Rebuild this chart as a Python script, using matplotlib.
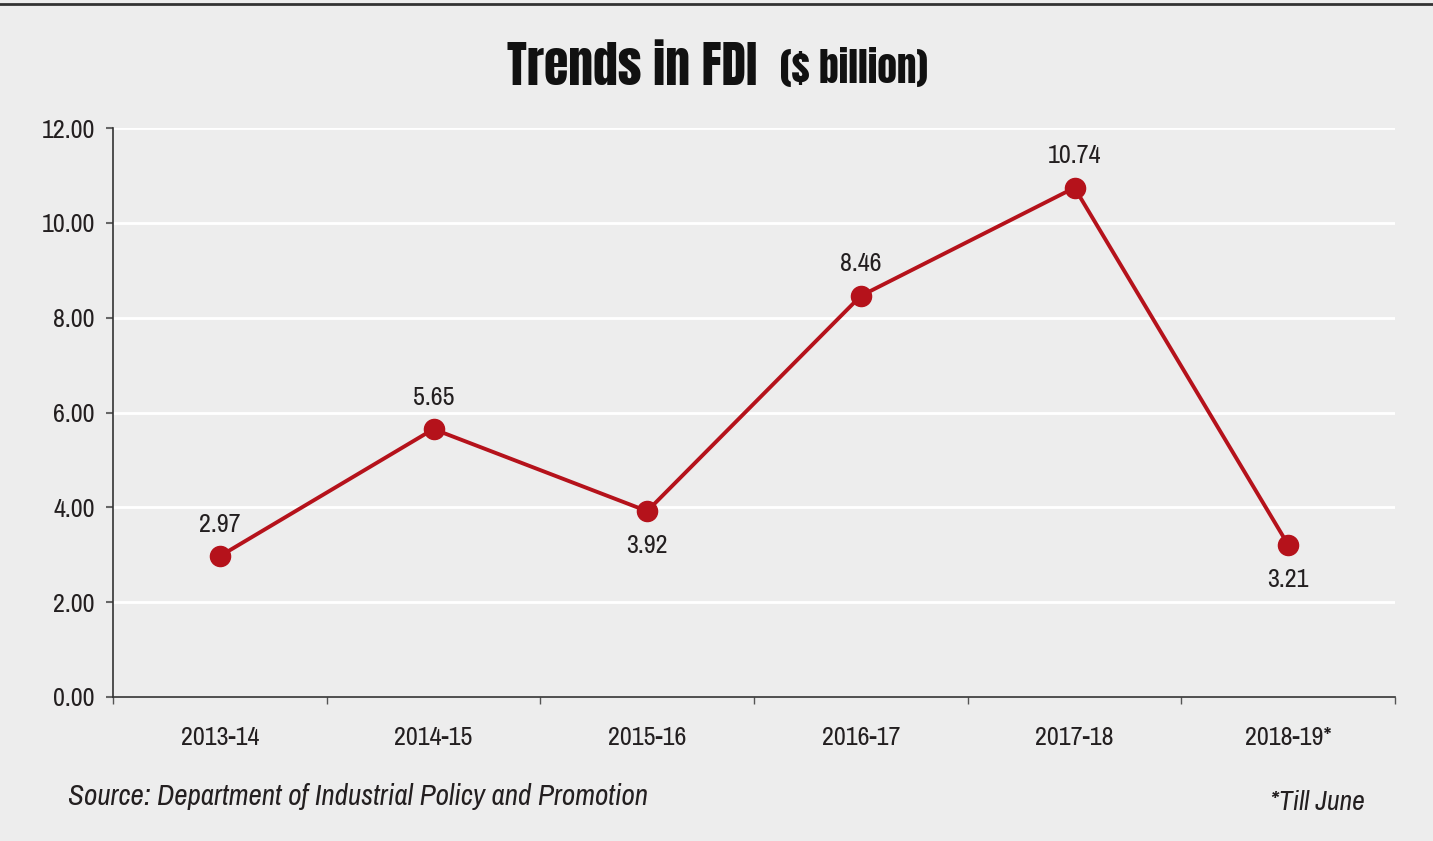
import matplotlib.pyplot as plt
from matplotlib import font_manager

years = ['2013-14', '2014-15', '2015-16', '2016-17', '2017-18', '2018-19*']
fdi = [2.97, 5.65, 3.92, 8.46, 10.74, 3.21]
label_above = [True, True, False, True, True, False]
yticks = [0, 2, 4, 6, 8, 10, 12]

names = {f.name for f in font_manager.fontManager.ttflist}


def pick(cands):
    for c in cands:
        if c in names:
            return c
    return 'DejaVu Sans'


body = pick(['Archivo Narrow', 'Roboto Condensed', 'PT Sans Narrow', 'Arial Narrow',
             'Liberation Sans Narrow', 'IBM Plex Sans Condensed', 'Open Sans Condensed'])
head = pick(['Anton', 'Oswald', 'Fjalla One', 'Bebas Neue', 'Impact'])
plt.rcParams['font.family'] = [body, 'DejaVu Sans']

bg = '#ededed'
red = '#b5121b'
txt = '#231f20'

fig = plt.figure(figsize=(14.33, 8.41), dpi=100, facecolor=bg)
ax = fig.add_axes([113/1433, 1-697/841, (1395-113)/1433, (697-128)/841])
ax.set_facecolor(bg)
rend = fig.canvas.get_renderer()


def fit(t, width):
    # scale a text's font size so it spans the given pixel width
    w = t.get_window_extent(rend).width
    t.set_fontsize(t.get_fontsize() * width / w)
    return t.get_fontsize()


probe = fig.text(0, 0, '2013-14', fontsize=17)
fs = fit(probe, 79)
probe.remove()

xs = list(range(len(years)))
ax.plot(xs, fdi, color=red, lw=2.8, marker='o', ms=14.5, zorder=3)
for x, v, up in zip(xs, fdi, label_above):
    dy = 23 if up else -25
    ax.annotate(f'{v:.2f}', (x, v), xytext=(0, dy), textcoords='offset points',
                ha='center', va='center', fontsize=fs, color=txt)

ax.set_xlim(-0.5, len(years) - 0.5)
ax.set_ylim(0, 12)
ax.set_yticks(yticks)
ax.set_yticklabels([f'{t:.2f}' for t in yticks], fontsize=fs, color=txt)
ax.yaxis.grid(True, color='white', lw=2)
ax.set_axisbelow(True)

ax.set_xticks([i - 0.5 for i in range(len(years) + 1)])
ax.set_xticklabels([])
ax.set_xticks(xs, minor=True)
ax.set_xticklabels(years, minor=True, fontsize=fs, color=txt)
ax.tick_params(axis='x', which='major', length=5, width=1, color='#555555', direction='out')
ax.tick_params(axis='x', which='minor', length=0, pad=21)
ax.tick_params(axis='y', length=5, width=1.5, color='#666666', pad=8)

for s in ['top', 'right']:
    ax.spines[s].set_visible(False)
for s in ['left', 'bottom']:
    ax.spines[s].set_color('#333333')
    ax.spines[s].set_linewidth(1.2)

t1 = fig.text(507/1433, 1 - 85/841, 'Trends in FDI', ha='left', va='baseline', fontsize=40,
              family=head, color='#111111')
fit(t1, 250)
t2 = fig.text(780/1433, 1 - 83/841, '($ billion)', ha='left', va='baseline', fontsize=26,
              family=head, color='#111111')
fit(t2, 148)

s1 = fig.text(68/1433, 1 - 797/841, 'Source: Department of Industrial Policy and Promotion',
              ha='left', va='center', fontsize=18, style='italic', color=txt)
fit(s1, 582)
s2 = fig.text(1365/1433, 1 - 802/841, '*Till June', ha='right', va='center', fontsize=18,
              style='italic', color=txt)
fit(s2, 95)

fig.add_artist(plt.Line2D([0, 1], [1 - 4/841, 1 - 4/841], color='#333333', lw=2,
                          transform=fig.transFigure))

fig.savefig('out.png', dpi=100, facecolor=bg)
